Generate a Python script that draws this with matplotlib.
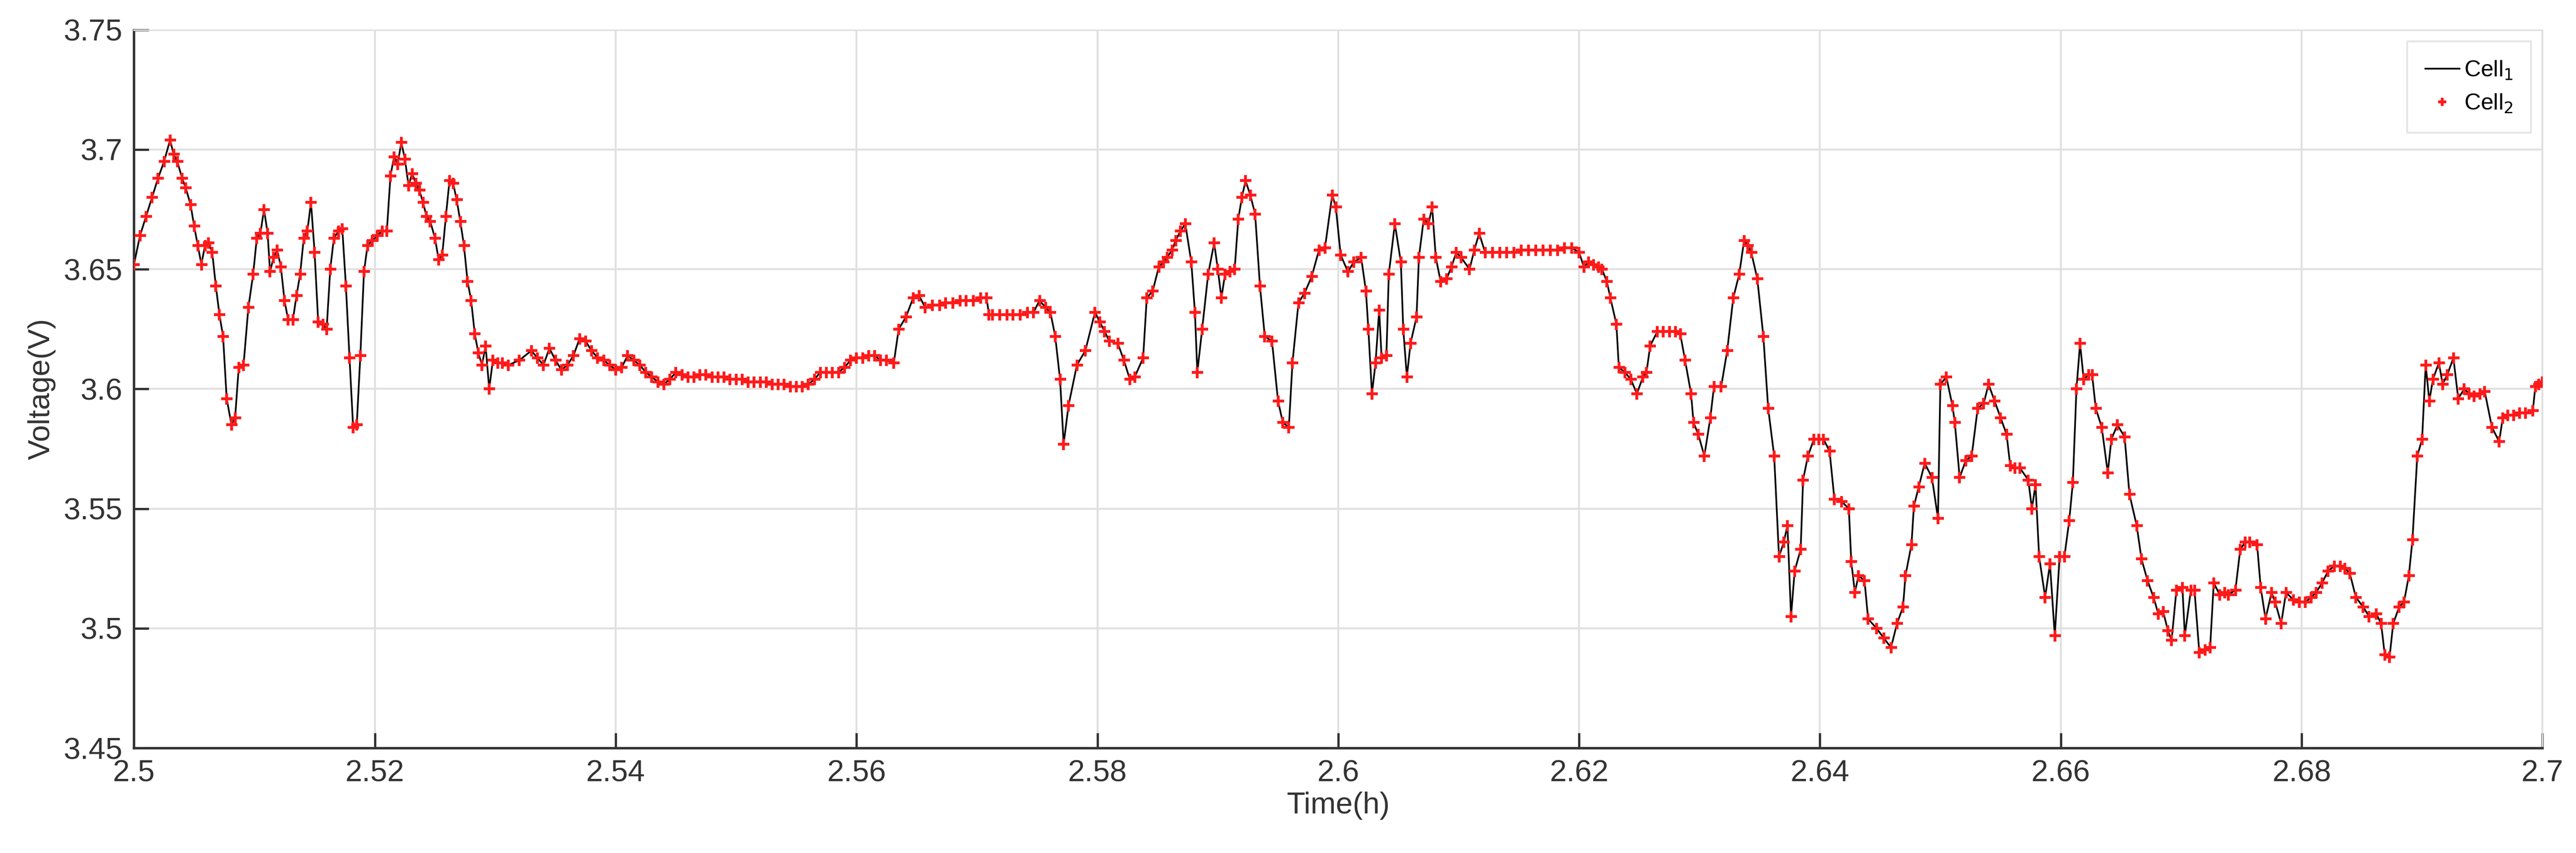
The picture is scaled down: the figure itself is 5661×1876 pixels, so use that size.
import matplotlib
matplotlib.use("Agg")
import matplotlib.pyplot as plt

plt.rcParams['font.family'] = ['Liberation Sans', 'DejaVu Sans']

time_h = [
 2.5000,2.5005,2.5010,2.5015,2.5020,2.5025,2.5030,2.5033,2.5036,2.5040,2.5043,2.5047,2.5050,2.5053,2.5056,2.5059,2.5062,2.5065,2.5068,2.5071,
 2.5074,2.5077,2.5081,2.5084,2.5087,2.5091,2.5095,2.5099,2.5102,2.5105,2.5108,2.5111,2.5113,2.5116,2.5119,2.5122,2.5125,2.5128,2.5132,2.5135,
 2.5138,2.5141,2.5144,2.5147,2.5150,2.5153,2.5157,2.5160,2.5163,2.5166,2.5170,2.5173,2.5176,2.5179,2.5182,2.5185,2.5188,2.5191,2.5194,2.5198,
 2.5202,2.5206,2.5210,2.5213,2.5216,2.5219,2.5222,2.5225,2.5228,2.5231,2.5234,2.5237,2.5240,2.5243,2.5246,2.5250,2.5253,2.5256,2.5259,2.5262,
 2.5265,2.5268,2.5271,2.5274,2.5277,2.5280,2.5283,2.5286,2.5289,2.5292,2.5295,2.5298,2.5302,2.5306,2.5311,2.5320,2.5330,2.5335,2.5340,2.5345,
 2.5350,2.5355,2.5360,2.5365,2.5370,2.5375,2.5380,2.5385,2.5390,2.5395,2.5400,2.5405,2.5410,2.5415,2.5420,2.5425,2.5430,2.5435,2.5440,2.5445,
 2.5450,2.5455,2.5460,2.5465,2.5470,2.5475,2.5480,2.5485,2.5490,2.5495,2.5500,2.5505,2.5510,2.5515,2.5520,2.5525,2.5530,2.5535,2.5540,2.5545,
 2.5550,2.5555,2.5560,2.5565,2.5570,2.5575,2.5580,2.5585,2.5590,2.5595,2.5600,2.5605,2.5610,2.5615,2.5620,2.5625,2.5631,2.5635,2.5641,2.5647,
 2.5652,2.5657,2.5663,2.5669,2.5674,2.5680,2.5686,2.5691,2.5697,2.5703,2.5708,2.5710,2.5713,2.5719,2.5725,2.5730,2.5736,2.5742,2.5747,2.5752,
 2.5757,2.5761,2.5765,2.5769,2.5772,2.5776,2.5783,2.5790,2.5798,2.5802,2.5806,2.5810,2.5817,2.5822,2.5827,2.5831,2.5838,2.5841,2.5846,2.5851,
 2.5855,2.5858,2.5862,2.5865,2.5869,2.5873,2.5878,2.5881,2.5883,2.5887,2.5892,2.5897,2.5900,2.5903,2.5906,2.5910,2.5914,2.5917,2.5920,2.5923,
 2.5927,2.5931,2.5935,2.5939,2.5945,2.5950,2.5954,2.5959,2.5962,2.5967,2.5972,2.5978,2.5984,2.5989,2.5995,2.5998,2.6002,2.6008,2.6013,2.6019,
 2.6023,2.6025,2.6028,2.6031,2.6034,2.6036,2.6040,2.6042,2.6047,2.6052,2.6054,2.6057,2.6060,2.6065,2.6067,2.6071,2.6075,2.6078,2.6081,2.6085,
 2.6090,2.6094,2.6098,2.6102,2.6109,2.6113,2.6117,2.6122,2.6128,2.6134,2.6140,2.6146,2.6152,2.6158,2.6164,2.6170,2.6176,2.6182,2.6188,2.6194,
 2.6200,2.6204,2.6208,2.6212,2.6216,2.6219,2.6223,2.6226,2.6231,2.6233,2.6238,2.6243,2.6248,2.6253,2.6256,2.6259,2.6265,2.6270,2.6275,2.6280,
 2.6284,2.6288,2.6293,2.6295,2.6299,2.6304,2.6309,2.6312,2.6318,2.6323,2.6328,2.6333,2.6337,2.6340,2.6343,2.6348,2.6353,2.6357,2.6362,2.6366,
 2.6370,2.6373,2.6376,2.6379,2.6384,2.6386,2.6390,2.6395,2.6399,2.6403,2.6408,2.6412,2.6418,2.6424,2.6426,2.6429,2.6432,2.6437,2.6440,2.6447,
 2.6453,2.6459,2.6464,2.6469,2.6471,2.6476,2.6478,2.6482,2.6487,2.6493,2.6498,2.6500,2.6505,2.6510,2.6512,2.6516,2.6521,2.6526,2.6531,2.6536,
 2.6540,2.6545,2.6550,2.6555,2.6558,2.6562,2.6566,2.6573,2.6576,2.6579,2.6582,2.6587,2.6591,2.6595,2.6599,2.6603,2.6607,2.6610,2.6613,2.6616,
 2.6619,2.6623,2.6626,2.6629,2.6634,2.6639,2.6642,2.6647,2.6653,2.6657,2.6663,2.6667,2.6672,2.6677,2.6681,2.6685,2.6689,2.6692,2.6696,2.6701,
 2.6703,2.6708,2.6711,2.6715,2.6720,2.6724,2.6727,2.6732,2.6736,2.6739,2.6745,2.6749,2.6753,2.6757,2.6763,2.6766,2.6770,2.6775,2.6778,2.6783,
 2.6787,2.6793,2.6798,2.6803,2.6808,2.6812,2.6817,2.6822,2.6827,2.6832,2.6836,2.6840,2.6845,2.6851,2.6856,2.6862,2.6866,2.6869,2.6873,2.6876,
 2.6881,2.6885,2.6889,2.6892,2.6896,2.6900,2.6903,2.6906,2.6909,2.6914,2.6917,2.6921,2.6926,2.6930,2.6935,2.6939,2.6943,2.6948,2.6952,2.6958,
 2.6964,2.6967,2.6971,2.6976,2.6981,2.6986,2.6992,2.6994,2.6997,2.7000]

voltage_v = [
 3.652,3.664,3.672,3.680,3.688,3.695,3.704,3.698,3.695,3.688,3.684,3.677,3.668,3.660,3.652,3.660,3.661,3.657,3.643,3.631,
 3.622,3.596,3.585,3.588,3.609,3.610,3.634,3.648,3.663,3.665,3.675,3.665,3.649,3.655,3.658,3.651,3.637,3.629,3.629,3.639,
 3.648,3.663,3.666,3.678,3.657,3.628,3.627,3.625,3.650,3.663,3.666,3.667,3.643,3.613,3.584,3.585,3.614,3.649,3.660,3.662,
 3.664,3.666,3.666,3.689,3.697,3.694,3.703,3.696,3.685,3.690,3.686,3.683,3.678,3.672,3.670,3.663,3.654,3.656,3.672,3.687,
 3.686,3.679,3.670,3.660,3.645,3.637,3.623,3.615,3.610,3.618,3.600,3.612,3.611,3.611,3.610,3.612,3.616,3.613,3.610,3.617,
 3.612,3.608,3.610,3.614,3.621,3.620,3.616,3.613,3.612,3.610,3.608,3.609,3.614,3.612,3.610,3.607,3.605,3.603,3.602,3.604,
 3.607,3.606,3.605,3.605,3.606,3.606,3.605,3.605,3.605,3.604,3.604,3.604,3.603,3.603,3.603,3.603,3.602,3.602,3.602,3.601,
 3.601,3.601,3.602,3.604,3.607,3.607,3.607,3.607,3.609,3.612,3.613,3.613,3.614,3.614,3.612,3.612,3.611,3.625,3.630,3.638,
 3.639,3.634,3.635,3.635,3.636,3.636,3.637,3.637,3.637,3.638,3.638,3.631,3.631,3.631,3.631,3.631,3.631,3.632,3.632,3.637,
 3.634,3.632,3.622,3.604,3.577,3.593,3.610,3.616,3.632,3.628,3.624,3.620,3.619,3.612,3.604,3.605,3.613,3.638,3.641,3.651,
 3.653,3.655,3.658,3.662,3.666,3.669,3.653,3.632,3.607,3.625,3.648,3.661,3.650,3.638,3.648,3.649,3.650,3.671,3.680,3.687,
 3.681,3.673,3.643,3.622,3.620,3.595,3.586,3.584,3.611,3.636,3.640,3.647,3.658,3.659,3.681,3.676,3.656,3.649,3.653,3.655,
 3.641,3.625,3.598,3.611,3.633,3.613,3.614,3.648,3.669,3.653,3.625,3.605,3.619,3.630,3.655,3.671,3.669,3.676,3.655,3.645,
 3.646,3.651,3.657,3.655,3.650,3.658,3.665,3.657,3.657,3.657,3.657,3.657,3.658,3.658,3.658,3.658,3.658,3.658,3.659,3.659,
 3.657,3.651,3.653,3.652,3.651,3.650,3.645,3.638,3.627,3.609,3.607,3.604,3.598,3.605,3.607,3.618,3.624,3.624,3.624,3.624,
 3.623,3.612,3.598,3.586,3.581,3.572,3.588,3.601,3.601,3.616,3.638,3.648,3.662,3.660,3.657,3.646,3.622,3.592,3.572,3.530,
 3.536,3.543,3.505,3.524,3.533,3.562,3.572,3.579,3.579,3.579,3.574,3.554,3.553,3.550,3.528,3.515,3.522,3.520,3.504,3.500,
 3.496,3.492,3.502,3.509,3.522,3.535,3.551,3.559,3.569,3.563,3.546,3.602,3.605,3.593,3.586,3.563,3.570,3.572,3.592,3.594,
 3.602,3.595,3.588,3.581,3.568,3.567,3.567,3.562,3.550,3.560,3.530,3.513,3.527,3.497,3.530,3.530,3.545,3.561,3.600,3.619,
 3.604,3.606,3.606,3.592,3.584,3.565,3.579,3.585,3.580,3.556,3.543,3.529,3.520,3.513,3.506,3.507,3.499,3.495,3.516,3.517,
 3.497,3.516,3.516,3.490,3.491,3.492,3.519,3.514,3.515,3.514,3.516,3.533,3.536,3.536,3.535,3.517,3.504,3.515,3.511,3.502,
 3.515,3.512,3.511,3.511,3.513,3.515,3.519,3.524,3.526,3.526,3.525,3.523,3.513,3.509,3.505,3.506,3.502,3.489,3.488,3.502,
 3.509,3.511,3.522,3.537,3.572,3.579,3.610,3.595,3.604,3.611,3.602,3.606,3.613,3.596,3.600,3.598,3.597,3.598,3.599,3.584,
 3.578,3.588,3.589,3.589,3.590,3.590,3.591,3.601,3.602,3.603]

tick_x = [2.5, 2.52, 2.54, 2.56, 2.58, 2.6, 2.62, 2.64, 2.66, 2.68, 2.7]
tick_x_labels = ["2.5", "2.52", "2.54", "2.56", "2.58", "2.6", "2.62", "2.64", "2.66", "2.68", "2.7"]
tick_y = [3.45, 3.5, 3.55, 3.6, 3.65, 3.7, 3.75]
tick_y_labels = ["3.45", "3.5", "3.55", "3.6", "3.65", "3.7", "3.75"]

fig = plt.figure(figsize=(5661/300, 1876/300), dpi=300)
ax = fig.add_axes([0.052, 0.123, 0.935, 0.842])
ax.plot(time_h, voltage_v, color='black', lw=0.9, label='Cell$_1$', zorder=2)
ax.plot(time_h, voltage_v, ls='none', marker='+', color='#ff1a1a', ms=6, mew=1.5,
        label='Cell$_2$', zorder=3)
ax.set_xlim(2.5, 2.7)
ax.set_ylim(3.45, 3.75)
ax.set_xticks(tick_x, tick_x_labels)
ax.set_yticks(tick_y, tick_y_labels)
ax.tick_params(direction='in', length=8, width=1.2, labelsize=16, colors='#333333', pad=6)
ax.grid(True, color='#e0e0e0', lw=1.0)
ax.set_axisbelow(True)
for s in ['top', 'right']:
    ax.spines[s].set_color('#e0e0e0')
for s in ['left', 'bottom']:
    ax.spines[s].set_color('#333333')
    ax.spines[s].set_linewidth(1.3)
ax.set_xlabel('Time(h)', fontsize=16, color='#333333', labelpad=2)
ax.set_ylabel('Voltage(V)', fontsize=16, color='#333333', labelpad=4)
leg = ax.legend(loc='upper right', fontsize=12, frameon=True, fancybox=False,
                handlelength=1.5, handletextpad=0.2, borderpad=0.8, markerscale=0.7)
leg.get_frame().set_edgecolor('#e0e0e0')
leg.get_frame().set_linewidth(1.0)
fig.savefig('out.png', dpi=300, facecolor='white')
